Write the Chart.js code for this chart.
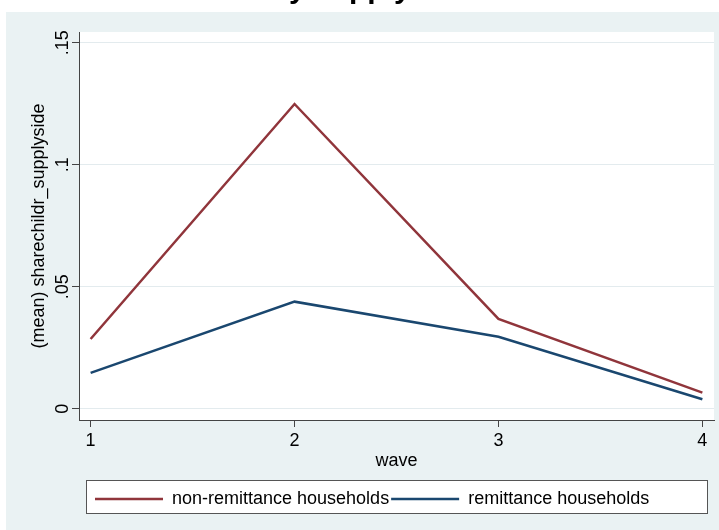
<!DOCTYPE html>
<html>
<head>
<meta charset="utf-8">
<script src="https://cdn.jsdelivr.net/npm/chart.js"></script>
<style>
  html, body { margin: 0; padding: 0; background: #fff; }
  #wrap { width: 719px; height: 530px; }
</style>
</head>
<body>
<div id="wrap"><canvas id="chart" width="719" height="530"></canvas></div>
<script>
// values
const waves = [1, 2, 3, 4];
const nonRemittance = [0.0286, 0.1249, 0.0368, 0.0066];
const remittance = [0.0147, 0.0439, 0.0295, 0.0039];
const seriesNames = ["non-remittance households", "remittance households"];
const seriesColors = ["#90353b", "#1a476f"];
const xTicks = [1, 2, 3, 4];
const yTicks = [0, 0.05, 0.1, 0.15];
const yTickLabels = ["0", ".05", ".1", ".15"];
const titleText = "Share of children by supply side";
const xTitle = "wave";
const yTitle = "(mean) sharechildr_supplyside";

const FONT = "'Liberation Sans', Arial, Helvetica, sans-serif";
Chart.defaults.font.family = FONT;
Chart.defaults.font.size = 18;
Chart.defaults.color = "#000";

const toPoints = (vals) => waves.map((w, i) => ({ x: w, y: vals[i] }));

// graph region, plot region and the (cut off) title
const backdrop = {
  id: "backdrop",
  beforeDraw(chart) {
    const { ctx, chartArea: a } = chart;
    ctx.save();
    ctx.fillStyle = "#fff";
    ctx.fillRect(0, 0, chart.width, chart.height);
    ctx.fillStyle = "#eaf2f3";
    ctx.fillRect(6, 12, chart.width - 6, chart.height - 12);
    ctx.fillStyle = "#fff";
    ctx.fillRect(a.left, a.top, a.right - a.left, a.bottom - a.top);

    ctx.font = `bold 30px ${FONT}`;
    ctx.fillStyle = "#000";
    ctx.textBaseline = "alphabetic";
    const pre = titleText.slice(0, titleText.indexOf("supply"));
    ctx.fillText(titleText, 314 - ctx.measureText(pre).width, -2);
    ctx.restore();
  },
};

// stata style legend box below the plot
const boxLegend = {
  id: "boxLegend",
  afterDraw(chart) {
    const { ctx } = chart;
    ctx.save();
    ctx.fillStyle = "#fff";
    ctx.fillRect(86, 480, 621, 34);
    ctx.strokeStyle = "#555";
    ctx.lineWidth = 1;
    ctx.strokeRect(86.5, 480.5, 621, 33);

    ctx.font = `18px ${FONT}`;
    ctx.textBaseline = "middle";
    ctx.fillStyle = "#000";
    let x = 95;
    const y = 499;
    chart.data.datasets.forEach((ds) => {
      ctx.strokeStyle = ds.borderColor;
      ctx.lineWidth = 2.5;
      ctx.beginPath();
      ctx.moveTo(x, y);
      ctx.lineTo(x + 68, y);
      ctx.stroke();
      ctx.fillText(ds.label, x + 77, y);
      x += 77 + ctx.measureText(ds.label).width + 2;
    });
    ctx.restore();
  },
};

new Chart(document.getElementById("chart"), {
  type: "line",
  data: {
    datasets: [
      {
        label: seriesNames[0],
        data: toPoints(nonRemittance),
        borderColor: seriesColors[0],
        backgroundColor: seriesColors[0],
      },
      {
        label: seriesNames[1],
        data: toPoints(remittance),
        borderColor: seriesColors[1],
        backgroundColor: seriesColors[1],
      },
    ],
  },
  options: {
    responsive: false,
    animation: false,
    devicePixelRatio: 1,
    layout: { padding: { top: 32, right: 5, bottom: 50, left: 0 } },
    elements: {
      point: { radius: 0 },
      line: { borderWidth: 2.5, tension: 0 },
    },
    plugins: {
      legend: { display: false },
      title: { display: false },
      tooltip: { enabled: false },
    },
    scales: {
      x: {
        type: "linear",
        min: 0.943,
        max: 4.057,
        afterBuildTicks: (s) => { s.ticks = xTicks.map((v) => ({ value: v })); },
        afterFit: (s) => { s.height = 60; },
        grid: { drawOnChartArea: false, tickLength: 7, tickColor: "#444", tickWidth: 1 },
        border: { color: "#444", width: 1 },
        ticks: { padding: 3, callback: (v) => String(v) },
        title: { display: true, text: xTitle, padding: { top: 0, bottom: 8 } },
      },
      y: {
        min: -0.0046,
        max: 0.1544,
        afterBuildTicks: (s) => { s.ticks = yTicks.map((v) => ({ value: v })); },
        afterFit: (s) => { s.width = 79; },
        grid: { color: "#e3ebee", lineWidth: 1, tickLength: 7, tickColor: "#444", tickWidth: 1 },
        border: { color: "#444", width: 1 },
        ticks: {
          minRotation: 90,
          maxRotation: 90,
          crossAlign: "center",
          padding: -4,
          callback: (v, i) => yTickLabels[i],
        },
        title: { display: true, text: yTitle, padding: { top: 28, bottom: 0 } },
      },
    },
  },
  plugins: [backdrop, boxLegend],
});
</script>
</body>
</html>
